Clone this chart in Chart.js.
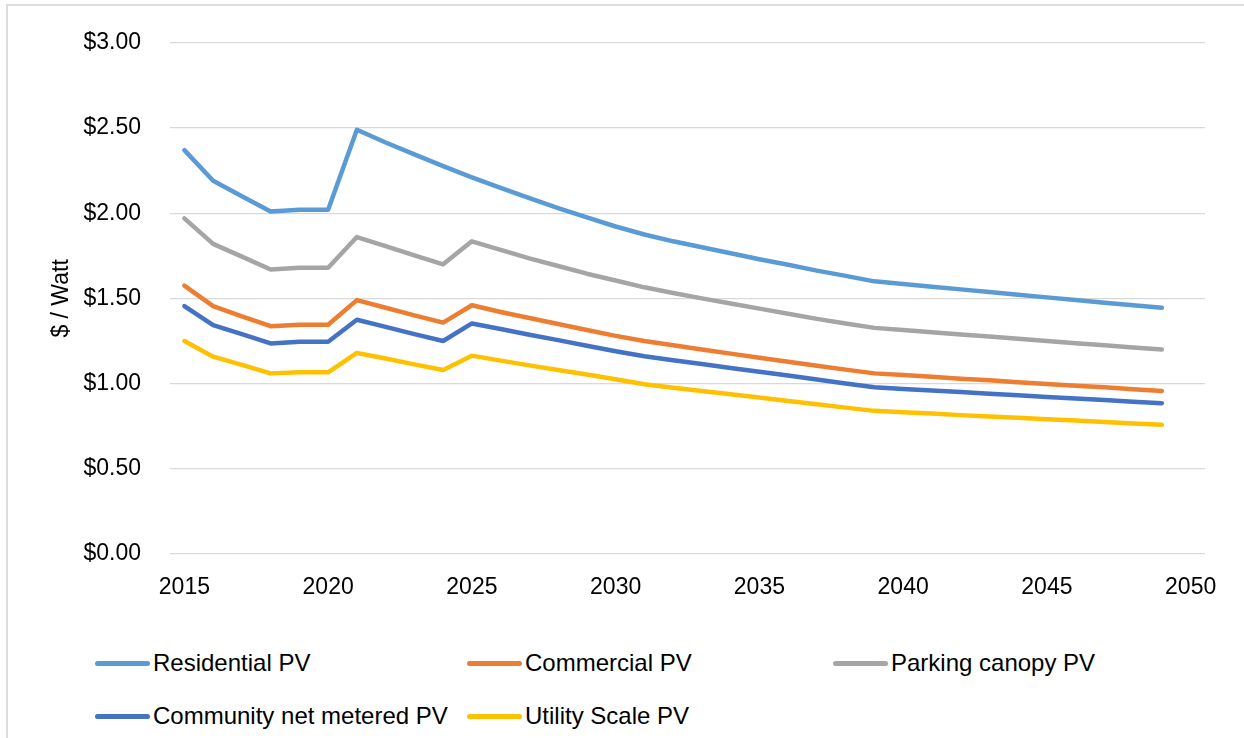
<!DOCTYPE html>
<html>
<head>
<meta charset="utf-8">
<script src="https://cdn.jsdelivr.net/npm/chart.js@4.4.1/dist/chart.umd.min.js"></script>
<style>
  html, body { margin: 0; padding: 0; background: #fff; overflow: hidden; }
  body { width: 1244px; height: 738px; position: relative; font-family: 'Liberation Sans', Arial, sans-serif; }
  #frame { position: absolute; left: 6px; top: 4px; width: 2000px; height: 2000px; border: 2px solid #dcdcdc; box-sizing: border-box; }
  #wrap { position: absolute; left: 0; top: 0; width: 1244px; height: 620px; }
  #legend { position: absolute; left: 95px; top: 649px; display: grid; grid-template-columns: 372px 366px 372px; row-gap: 25px; }
  .item { display: flex; align-items: center; height: 28px; font-size: 24px; color: #000; white-space: nowrap; }
  .swatch { width: 55px; height: 5px; border-radius: 3px; margin-right: 3px; }
</style>
</head>
<body>
<div id="frame"></div>
<div id="wrap"><canvas id="c"></canvas></div>
<div id="legend"></div>
<script>
const years = [];
for (let y = 2015; y <= 2050; y++) years.push(String(y));

const seriesNames = ['Residential PV', 'Commercial PV', 'Parking canopy PV', 'Community net metered PV', 'Utility Scale PV'];
const seriesColors = ['#5B9BD5', '#ED7D31', '#A5A5A5', '#4472C4', '#FFC000'];

const residential = [2.37, 2.19, 2.10, 2.01, 2.02, 2.02, 2.49, 2.415, 2.345, 2.276, 2.21, 2.148, 2.088, 2.03, 1.975, 1.922, 1.875, 1.835, 1.80, 1.765, 1.73, 1.697, 1.663, 1.632, 1.60, 1.584, 1.568, 1.553, 1.537, 1.522, 1.506, 1.491, 1.475, 1.46, 1.445, null];
const commercial = [1.575, 1.455, 1.395, 1.337, 1.345, 1.345, 1.49, 1.445, 1.40, 1.358, 1.46, 1.42, 1.385, 1.35, 1.315, 1.28, 1.25, 1.225, 1.20, 1.176, 1.152, 1.128, 1.105, 1.082, 1.06, 1.05, 1.04, 1.029, 1.019, 1.008, 0.998, 0.988, 0.978, 0.967, 0.957, null];
const parking = [1.97, 1.82, 1.745, 1.67, 1.68, 1.68, 1.86, 1.807, 1.753, 1.70, 1.835, 1.785, 1.735, 1.69, 1.645, 1.605, 1.565, 1.532, 1.50, 1.47, 1.44, 1.41, 1.38, 1.353, 1.327, 1.314, 1.301, 1.288, 1.276, 1.263, 1.25, 1.237, 1.225, 1.212, 1.20, null];
const community = [1.455, 1.343, 1.29, 1.236, 1.246, 1.246, 1.375, 1.333, 1.29, 1.25, 1.353, 1.32, 1.287, 1.255, 1.222, 1.19, 1.16, 1.137, 1.115, 1.092, 1.07, 1.047, 1.024, 1.001, 0.978, 0.969, 0.96, 0.95, 0.941, 0.932, 0.922, 0.913, 0.904, 0.894, 0.885, null];
const utility = [1.25, 1.158, 1.11, 1.06, 1.066, 1.066, 1.18, 1.147, 1.113, 1.08, 1.164, 1.135, 1.107, 1.08, 1.053, 1.025, 0.996, 0.976, 0.957, 0.937, 0.918, 0.898, 0.879, 0.859, 0.84, 0.832, 0.824, 0.815, 0.807, 0.799, 0.791, 0.783, 0.774, 0.766, 0.758, null];

const seriesData = [residential, commercial, parking, community, utility];

Chart.defaults.font.family = "'Liberation Sans', Arial, sans-serif";
Chart.defaults.font.size = 23;
Chart.defaults.color = '#000';

const datasets = seriesNames.map((name, i) => ({
  label: name,
  data: seriesData[i],
  borderColor: seriesColors[i],
  backgroundColor: seriesColors[i],
  borderWidth: 4.5,
  borderCapStyle: 'round',
  borderJoinStyle: 'round',
  pointRadius: 0,
  pointHoverRadius: 0,
  tension: 0,
  fill: false
}));

const chart = new Chart(document.getElementById('c'), {
  type: 'line',
  data: { labels: years, datasets: datasets },
  options: {
    responsive: true,
    maintainAspectRatio: false,
    animation: false,
    layout: { padding: { left: 44, right: 39, top: 37, bottom: 0 } },
    plugins: { legend: { display: false }, tooltip: { enabled: false } },
    scales: {
      x: {
        type: 'category',
        offset: true,
        grid: { display: false, drawTicks: false },
        border: { display: false },
        ticks: {
          autoSkip: false,
          maxRotation: 0,
          padding: 20,
          callback: function (val, idx) {
            const lab = this.getLabelForValue(val);
            return (Number(lab) % 5 === 0) ? lab : '';
          }
        },
        afterFit: (s) => { s.height = 66; }
      },
      y: {
        min: 0,
        max: 3,
        ticks: {
          stepSize: 0.5,
          padding: 29,
          callback: (v) => '$' + Number(v).toFixed(2)
        },
        grid: { color: '#d9d9d9', lineWidth: 1.3, drawTicks: false },
        border: { display: false },
        title: { display: true, text: '$ / Watt', padding: { top: 4, bottom: 4 } },
        afterFit: (s) => { s.width = 126; }
      }
    }
  }
});

const legend = document.getElementById('legend');
chart.data.datasets.forEach((ds) => {
  const item = document.createElement('div');
  item.className = 'item';
  const sw = document.createElement('span');
  sw.className = 'swatch';
  sw.style.background = ds.borderColor;
  const tx = document.createElement('span');
  tx.textContent = ds.label;
  item.appendChild(sw);
  item.appendChild(tx);
  legend.appendChild(item);
});
</script>
</body>
</html>
